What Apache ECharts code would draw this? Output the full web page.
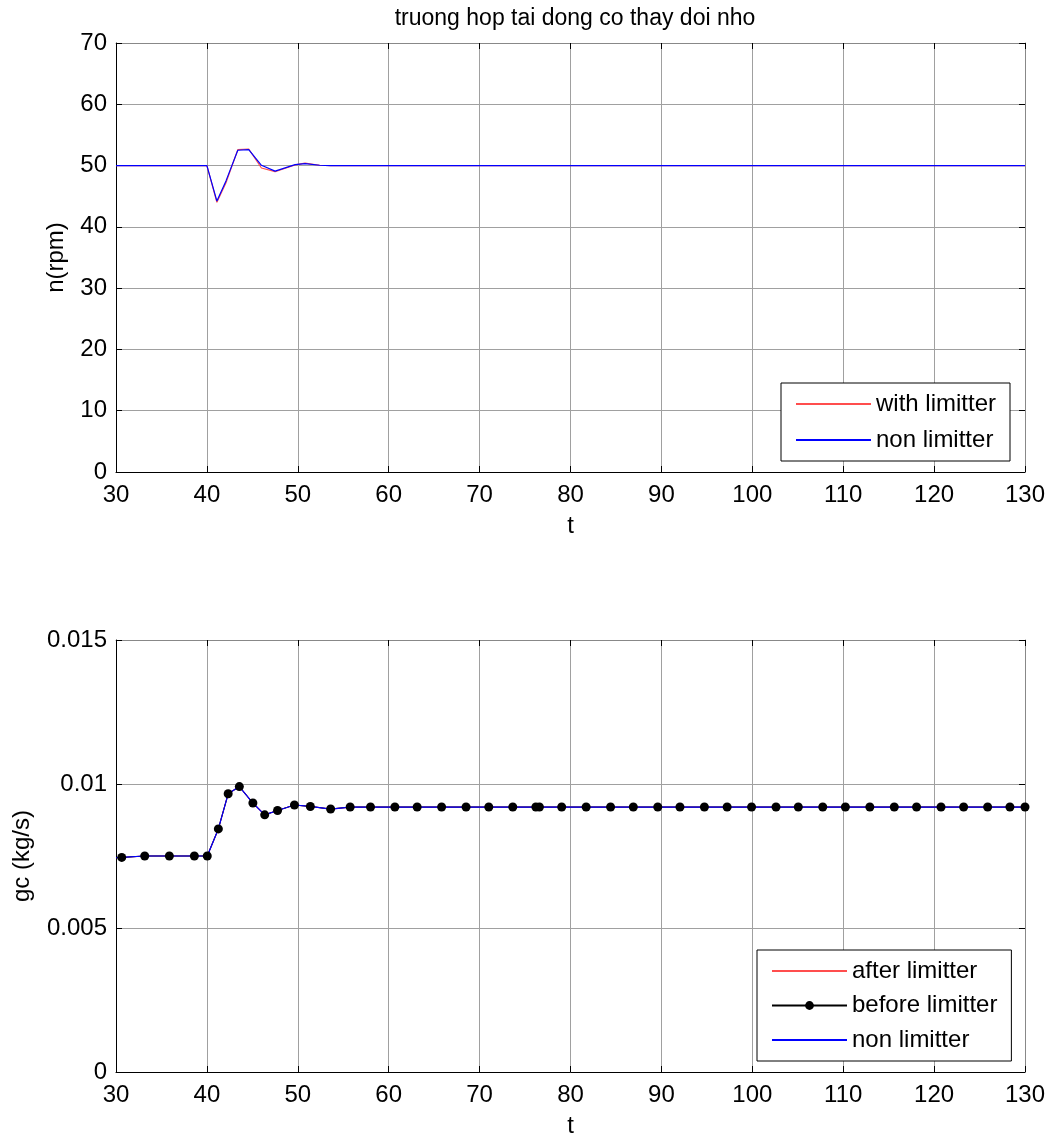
<!DOCTYPE html>
<html>
<head>
<meta charset="utf-8">
<script src="https://cdn.jsdelivr.net/npm/echarts@6/dist/echarts.min.js"></script>
<style>
html,body{margin:0;padding:0;background:#fff;}
#chart{width:1057px;height:1146px;}
</style>
</head>
<body>
<div id="chart"></div>
<script>
// ---------- data ----------
const titleText = 'truong hop tai dong co thay doi nho';
const xTicks = [30, 40, 50, 60, 70, 80, 90, 100, 110, 120, 130];
const nTicks = [0, 10, 20, 30, 40, 50, 60, 70];
const gcTicks = [0, 0.005, 0.01, 0.015];

// top plot: speed n(rpm)
const tN    = [30, 40, 41.1, 42.1, 43.4, 44.6, 46.0, 47.5, 49.7, 50.8, 52.4, 53.6, 130];
const nWith = [50, 50, 44.0, 47.2, 52.6, 52.7, 49.6, 49.0, 50.1, 50.4, 50.05, 50, 50];
const nNon  = [50, 50, 44.2, 47.5, 52.5, 52.6, 50.05, 49.1, 50.16, 50.33, 50.05, 50, 50];

// bottom plot: gc (kg/s)
const tGc = [30, 30.63, 33.16, 35.87, 38.62, 40.04, 41.26, 42.34, 43.57, 45.06, 46.36, 47.77, 49.63, 51.38, 53.61, 55.76,
  58.0, 60.68, 63.13, 65.82, 68.51, 71.01, 73.65, 76.19, 76.58, 79.03, 81.72, 84.41, 86.91, 89.60, 92.04, 94.73,
  97.23, 99.92, 102.61, 105.06, 107.75, 110.24, 112.93, 115.62, 118.07, 120.76, 123.25, 125.89, 128.34, 130];
const gcBefore = [0.00744, 0.00745, 0.0075, 0.0075, 0.0075, 0.0075, 0.00844, 0.00966, 0.00991, 0.00934, 0.00893, 0.00908, 0.00927, 0.00922, 0.00913, 0.0092,
  0.0092, 0.0092, 0.0092, 0.0092, 0.0092, 0.0092, 0.0092, 0.0092, 0.0092, 0.0092, 0.0092, 0.0092, 0.0092, 0.0092, 0.0092, 0.0092,
  0.0092, 0.0092, 0.0092, 0.0092, 0.0092, 0.0092, 0.0092, 0.0092, 0.0092, 0.0092, 0.0092, 0.0092, 0.0092, 0.0092];
const gcAfter = [0.00744, 0.00745, 0.0075, 0.0075, 0.0075, 0.0075, 0.00844, 0.00966, 0.00991, 0.00934, 0.00893, 0.00908, 0.00927, 0.00922, 0.00913, 0.0092,
  0.0092, 0.0092, 0.0092, 0.0092, 0.0092, 0.0092, 0.0092, 0.0092, 0.0092, 0.0092, 0.0092, 0.0092, 0.0092, 0.0092, 0.0092, 0.0092,
  0.0092, 0.0092, 0.0092, 0.0092, 0.0092, 0.0092, 0.0092, 0.0092, 0.0092, 0.0092, 0.0092, 0.0092, 0.0092, 0.0092];
const gcNon = [0.00744, 0.00745, 0.0075, 0.0075, 0.0075, 0.0075, 0.00844, 0.00966, 0.00991, 0.00934, 0.00893, 0.00908, 0.00927, 0.00922, 0.00913, 0.0092,
  0.0092, 0.0092, 0.0092, 0.0092, 0.0092, 0.0092, 0.0092, 0.0092, 0.0092, 0.0092, 0.0092, 0.0092, 0.0092, 0.0092, 0.0092, 0.0092,
  0.0092, 0.0092, 0.0092, 0.0092, 0.0092, 0.0092, 0.0092, 0.0092, 0.0092, 0.0092, 0.0092, 0.0092, 0.0092, 0.0092];

// ---------- build ----------
const FONT = 'Liberation Sans, Arial, sans-serif';
const FS = 24;
const RED = '#ff4d4d';
const BLUE = '#0000ff';
const pairs = (xs, ys) => xs.map((x, i) => [x, ys[i]]);
const GRID = '#a0a0a0';

function xAxes(gridIndex) {
  return [{
    type: 'value', gridIndex, position: 'bottom',
    min: xTicks[0], max: xTicks[xTicks.length - 1], interval: xTicks[1] - xTicks[0],
    name: 't', nameLocation: 'middle', nameGap: 42,
    nameTextStyle: { fontFamily: FONT, fontSize: FS, color: '#000' },
    axisLine: { show: true, onZero: false, lineStyle: { color: '#000', width: 1 } },
    axisTick: { show: true, inside: true, length: 6, lineStyle: { color: '#000' } },
    axisLabel: { fontFamily: FONT, fontSize: FS, color: '#000', margin: 11 },
    splitLine: { show: true, lineStyle: { color: GRID, width: 1 } }
  }, {
    type: 'value', gridIndex, position: 'top',
    min: xTicks[0], max: xTicks[xTicks.length - 1], interval: xTicks[1] - xTicks[0],
    axisLine: { show: true, onZero: false, lineStyle: { color: '#888', width: 1 } },
    axisTick: { show: true, inside: true, length: 6, lineStyle: { color: '#000' } },
    axisLabel: { show: false }, splitLine: { show: false }
  }];
}
function yAxes(gridIndex, ticks, name, gap) {
  return [{
    type: 'value', gridIndex, position: 'left',
    min: ticks[0], max: ticks[ticks.length - 1], interval: ticks[1] - ticks[0],
    name, nameLocation: 'middle', nameGap: gap,
    nameTextStyle: { fontFamily: FONT, fontSize: FS, color: '#000' },
    axisLine: { show: true, onZero: false, lineStyle: { color: '#000', width: 1 } },
    axisTick: { show: true, inside: true, length: 6, lineStyle: { color: '#000' } },
    axisLabel: { fontFamily: FONT, fontSize: FS, color: '#000', margin: 9 },
    splitLine: { show: true, lineStyle: { color: GRID, width: 1 } }
  }, {
    type: 'value', gridIndex, position: 'right',
    min: ticks[0], max: ticks[ticks.length - 1], interval: ticks[1] - ticks[0],
    axisLine: { show: true, onZero: false, lineStyle: { color: '#888', width: 1 } },
    axisTick: { show: true, inside: true, length: 6, lineStyle: { color: '#000' } },
    axisLabel: { show: false }, splitLine: { show: false }
  }];
}

const noDot = { opacity: 0 };

const option = {
  animation: false,
  backgroundColor: '#fff',
  title: {
    text: titleText, left: 570, top: 2, textAlign: 'center',
    textStyle: { fontFamily: FONT, fontSize: 23, fontWeight: 'normal', color: '#000' }
  },
  grid: [
    { left: 116, right: 32, top: 43, height: 429 },
    { left: 116, right: 32, top: 640, height: 432 }
  ],
  xAxis: [...xAxes(0), ...xAxes(1)],
  yAxis: [...yAxes(0, nTicks, 'n(rpm)', 48), ...yAxes(1, gcTicks, 'gc (kg/s)', 82)],
  legend: [{
    orient: 'vertical', left: 781, top: 383,
    data: [{ name: 'with limitter', itemStyle: noDot }, { name: 'non limitter', itemStyle: noDot }],
    backgroundColor: '#fff', borderColor: '#000', borderWidth: 1,
    padding: [9, 14, 9, 14], itemWidth: 75, itemHeight: 11, itemGap: 12,
    textStyle: { fontFamily: FONT, fontSize: FS, color: '#000' }
  }, {
    orient: 'vertical', left: 757, top: 950,
    data: [{ name: 'after limitter', itemStyle: noDot }, 'before limitter', { name: 'non limitter ', itemStyle: noDot }],
    backgroundColor: '#fff', borderColor: '#000', borderWidth: 1,
    padding: [9, 14, 9, 14], itemWidth: 75, itemHeight: 11, itemGap: 10.5,
    textStyle: { fontFamily: FONT, fontSize: FS, color: '#000' }
  }],
  series: [
    { name: 'with limitter', type: 'line', xAxisIndex: 0, yAxisIndex: 0, symbol: 'none',
      data: pairs(tN, nWith), lineStyle: { color: RED, width: 1.2 }, itemStyle: { color: RED } },
    { name: 'non limitter', type: 'line', xAxisIndex: 0, yAxisIndex: 0, symbol: 'none',
      data: pairs(tN, nNon), lineStyle: { color: BLUE, width: 1.2 }, itemStyle: { color: BLUE } },
    { name: 'after limitter', type: 'line', xAxisIndex: 2, yAxisIndex: 2, symbol: 'none',
      data: pairs(tGc, gcAfter), lineStyle: { color: RED, width: 1.2 }, itemStyle: { color: RED } },
    { name: 'before limitter', type: 'line', xAxisIndex: 2, yAxisIndex: 2, symbol: 'circle', symbolSize: 9,
      data: pairs(tGc, gcBefore).map((p, i) => i === 0 ? { value: p, symbolSize: 0 } : p),
      lineStyle: { color: '#000', width: 1 }, itemStyle: { color: '#000' } },
    { name: 'non limitter ', type: 'line', xAxisIndex: 2, yAxisIndex: 2, symbol: 'none',
      data: pairs(tGc, gcNon), lineStyle: { color: BLUE, width: 1.2 }, itemStyle: { color: BLUE } }
  ]
};

const chart = echarts.init(document.getElementById('chart'), null, { renderer: 'canvas' });
chart.setOption(option);
</script>
</body>
</html>
